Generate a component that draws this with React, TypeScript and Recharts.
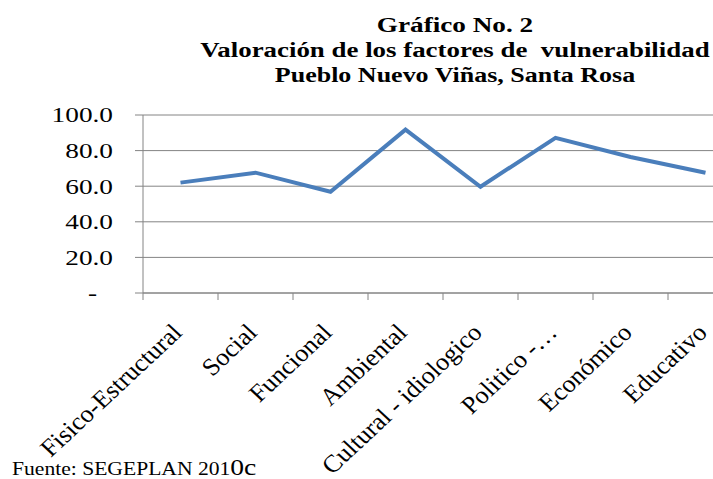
import React from 'react';
import { LineChart, Line, XAxis, YAxis, CartesianGrid } from 'recharts';

const categories = [
  'Fisico-Estructural',
  'Social',
  'Funcional',
  'Ambiental',
  'Cultural - idiologico',
  'Politico -…',
  'Económico',
  'Educativo',
];
const values = [62.0, 67.6, 56.9, 91.8, 59.7, 87.2, 76.4, 67.6];
const yTicks = [0, 20, 40, 60, 80, 100];
const titleLines = [
  'Gráfico No. 2',
  'Valoración de los factores de  vulnerabilidad',
  'Pueblo Nuevo Viñas, Santa Rosa',
];
const titleStretch = [1.36, 1.345, 1.3];
const sourceMain = 'Fuente: SEGEPLAN 201';
const sourceTail = '0c';

const data = categories.map((name, i) => ({ name, pos: i + 0.5, value: values[i] }));
const xTicks = categories.flatMap((_, i) => [i, i + 0.5]).concat(categories.length);

const SERIF = '"Liberation Serif", "Times New Roman", serif';
const AXIS = '#848484';

const YTick = (props: any) => {
  const { x, y, payload } = props;
  const v = payload.value as number;
  const label = v === 0 ? '-' : v.toFixed(1);
  return (
    <text
      transform={`translate(${x - (v === 0 ? 16 : 0)},${y}) scale(1.3,1)`}
      textAnchor="end"
      dy="0.35em"
      fontFamily={SERIF}
      fontSize={21}
      fill="#000"
    >
      {label}
    </text>
  );
};

const XTick = (props: any) => {
  const { x, y, payload } = props;
  const v = payload.value as number;
  if (Number.isInteger(v)) {
    return <line x1={x} x2={x} y1={y} y2={y + 7} stroke={AXIS} strokeWidth={1} />;
  }
  const label = categories[Math.floor(v)];
  return (
    <text
      transform={`translate(${x + 3},${y + 41}) scale(1.07,1) rotate(-45)`}
      textAnchor="end"
      fontFamily={SERIF}
      fontSize={24.5}
      fill="#000"
    >
      {label}
    </text>
  );
};

export default function App() {
  return (
    <div
      style={{
        position: 'fixed',
        left: 0,
        top: 0,
        width: 713,
        height: 479,
        overflow: 'hidden',
        background: '#fff',
      }}
    >
      <LineChart
        width={760}
        height={479}
        data={data}
        margin={{ top: 115, right: 17, bottom: 0, left: 0 }}
      >
        <CartesianGrid vertical={false} stroke={AXIS} strokeWidth={1} />
        <XAxis
          dataKey="pos"
          type="number"
          domain={[0, categories.length]}
          ticks={xTicks}
          interval={0}
          height={186}
          tickSize={0}
          tickMargin={0}
          tickLine={false}
          axisLine={{ stroke: AXIS }}
          tick={<XTick />}
          allowDecimals
        />
        <YAxis
          type="number"
          domain={[0, 100]}
          ticks={yTicks}
          interval={0}
          width={143}
          tickSize={8}
          tickMargin={22}
          tickLine={{ stroke: AXIS }}
          axisLine={{ stroke: AXIS }}
          tick={<YTick />}
        />
        <Line
          type="linear"
          dataKey="value"
          stroke="#4a7ebb"
          strokeWidth={4}
          dot={false}
          isAnimationActive={false}
        />
      </LineChart>
      <svg
        width={713}
        height={479}
        style={{ position: 'absolute', left: 0, top: 0, pointerEvents: 'none' }}
      >
        {titleLines.map((t, i) => (
          <text
            key={i}
            transform={`translate(455,${32 + i * 25}) scale(${titleStretch[i]},1)`}
            textAnchor="middle"
            fontFamily={SERIF}
            fontWeight="bold"
            fontSize={20}
            fill="#000"
            style={{ whiteSpace: 'pre' }}
            xmlSpace="preserve"
          >
            {t}
          </text>
        ))}
        <text
          transform={`translate(12,475) scale(1.2,1)`}
          fontFamily={SERIF}
          fontSize={18}
          fill="#000"
        >
          {sourceMain}
          <tspan fontSize={23}>{sourceTail}</tspan>
        </text>
      </svg>
    </div>
  );
}
